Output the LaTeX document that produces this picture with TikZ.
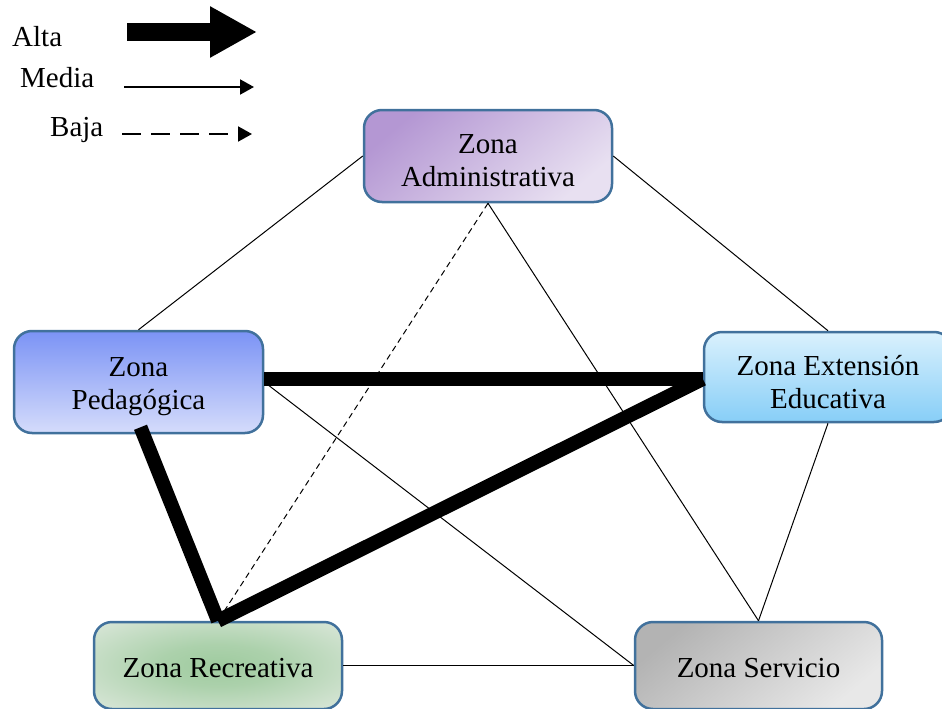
\documentclass[tikz,border=0pt]{standalone}
\usepackage{fontspec}
\setmainfont{Liberation Serif}
\usetikzlibrary{arrows.meta,calc}
\definecolor{bordc}{HTML}{41719C}
\definecolor{admA}{HTML}{B497D3}
\definecolor{admB}{HTML}{E8E0F1}
\definecolor{pedA}{HTML}{7B93F5}
\definecolor{pedB}{HTML}{D5DCFB}
\definecolor{extA}{HTML}{DAF1FD}
\definecolor{extB}{HTML}{87CEF7}
\definecolor{recA}{HTML}{9FCB9F}
\definecolor{recB}{HTML}{DFE9DE}
\definecolor{serA}{HTML}{B3B3B3}
\definecolor{serB}{HTML}{E8E8E8}
\pgfdeclareradialshading{recshade}{\pgfpoint{0bp}{0bp}}{color(0bp)=(recA); color(12bp)=(recA!80!recB); color(38bp)=(recB); color(50bp)=(recB)}
\tikzset{
  zone/.style={draw=bordc, line width=2.5pt, rounded corners=18pt},
  ztext/.style={align=center, inner sep=0pt, font=\fontsize{29}{33}\selectfont, yshift=-5pt},
  lbl/.style={anchor=base west, inner sep=0pt, font=\fontsize{29}{33}\selectfont},
  thinlink/.style={line width=1pt, black},
  thicklink/.style={line width=14pt, black},
  lowlink/.style={line width=1pt, black, dash pattern=on 6pt off 4pt},
}
\begin{document}
\begin{tikzpicture}[x=1pt,y=-1pt]
\useasboundingbox (0,0) rectangle (942,709);
% legend
\node[lbl] (lalta) at (12,47) {Alta};
\node[lbl] (lmedia) at (20,87) {Media};
\node[lbl] (lbaja) at (50,136) {Baja};
\coordinate (a1) at (127,32);
\coordinate (a2) at (257,32);
\coordinate (m1) at (124,87);
\coordinate (m2) at (254,87);
\coordinate (b1) at (122,134);
\coordinate (b2) at (252,134);
\draw[line width=18pt, -{Triangle[length=47pt,width=48pt]}] (a1) -- (a2);
\draw[line width=2pt, -{Triangle[length=14pt,width=15pt]}] (m1) -- (m2);
\draw[line width=2pt, dash pattern=on 19pt off 10pt, -{Triangle[length=14pt,width=15pt]}] (b1) -- (b2);
% zones
\node[zone, minimum width=248pt, minimum height=92pt, top color=admA, bottom color=admB, shading angle=40,
  label={[ztext]center:Zona\\Administrativa}] (adm) at (488,156) {};
\node[zone, minimum width=249pt, minimum height=102pt, top color=pedA, bottom color=pedB,
  label={[ztext]center:Zona\\Pedagógica}] (ped) at (138.5,382) {};
\node[zone, minimum width=248pt, minimum height=90pt, top color=extA, bottom color=extB,
  label={[ztext]center:Zona Extensión\\Educativa}] (ext) at (828,377) {};
\node[zone, minimum width=248pt, minimum height=87pt, shading=recshade,
  label={[ztext, yshift=2pt]center:Zona Recreativa}] (rec) at (218,665.5) {};
\node[zone, minimum width=247pt, minimum height=87pt, top color=serA, bottom color=serB, shading angle=40,
  label={[ztext, yshift=2pt]center:Zona Servicio}] (ser) at (758.5,665.5) {};
% links
\draw[thinlink] (ped.north) -- (adm.west);
\draw[thinlink] (adm.east) -- (ext.north);
\draw[lowlink] (adm.south) -- (rec.north);
\draw[thinlink] (adm.south) -- (ser.north);
\draw[thinlink] (ped.east) -- (ser.west);
\draw[thinlink] (ext.south) -- (ser.north);
\draw[thinlink] (rec.east) -- (ser.west);
\coordinate (extin) at ($(ext.west)+(0,2)$);
\draw[thicklink] (ped.east |- extin) -- (extin);
\draw[thicklink] (extin) -- (rec.north);
\draw[thicklink] ($(ped.south)+(2,-7)$) -- (rec.north);
\end{tikzpicture}
\end{document}
